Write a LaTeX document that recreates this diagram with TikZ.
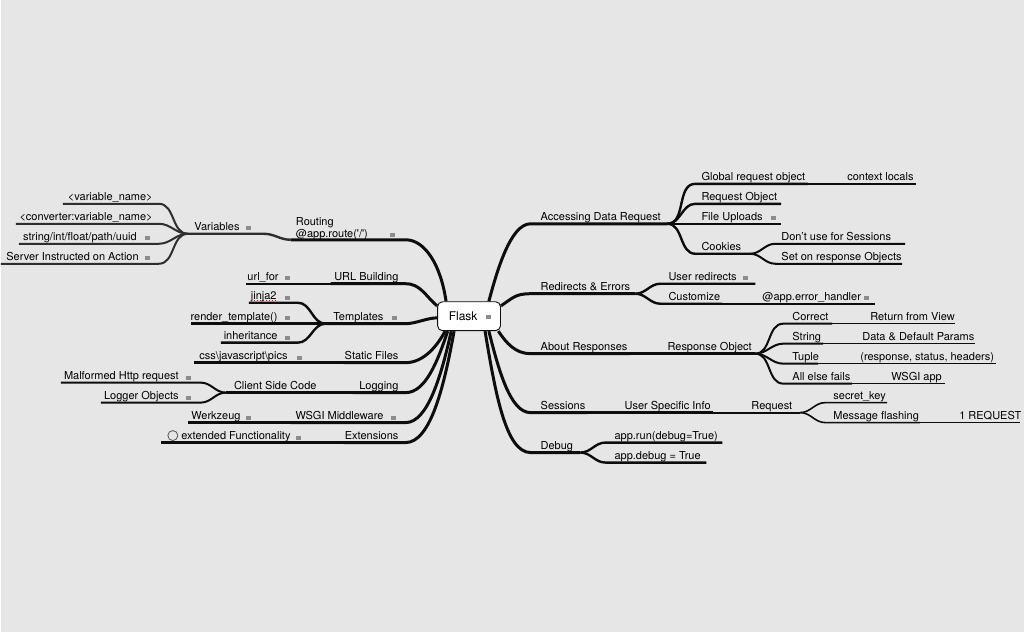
\documentclass[tikz,border=0pt]{standalone}
\usepackage{fontspec}
\setmainfont{TeX Gyre Heros}
\usetikzlibrary{calc,positioning}
\definecolor{mapbg}{HTML}{E6E6E6}
\definecolor{mapink}{HTML}{0D0D0D}
\definecolor{mapgray}{HTML}{2E2E2E}
\definecolor{notegray}{HTML}{8C8C8C}
\newcommand\mapfont{\fontsize{11}{13}\selectfont}
\tikzset{
  lvA/.style={draw=mapink, line width=3pt},
  lvB/.style={draw=mapink, line width=2.4pt},
  lvC/.style={draw=mapink, line width=2pt},
  lvD/.style={draw=mapink, line width=1.6pt},
  lvE/.style={draw=mapink, line width=1.3pt},
  lbl/.style={inner sep=0pt, font=\mapfont, text=black},
  lblR/.style={lbl, anchor=base west},
  lblL/.style={lbl, anchor=base east},
  notebox/.style={fill=notegray, minimum width=5pt, minimum height=4pt, inner sep=0pt},
  rootbox/.style={draw=mapink, fill=white, rounded corners=5pt, line width=0.9pt,
    minimum width=63pt, minimum height=29pt}
}

\begin{document}
\begin{tikzpicture}[x=1pt,y=-1pt]
  \fill[mapbg] (0,0) rectangle (1024,633);

  % ends of the line under every topic
  \foreach \n/\xa/\xb/\y in {adr/530/667/224, glob/695/808/184, ctx/808/916/184,
      rqo/695/781/204, fup/695/781/224, cok/695/750/254, dus/775/905/244,
      sor/775/902/264, red/530/635/294, usr/660/755/284, cus/660/722/304,
      ehd/722/875/304, abr/530/630/354, rso/630/755/354, cor/783/832/324,
      rfv/832/955/324, str/783/823/344, ddp/823/975/344, tup/783/818/364,
      rsh/818/996/364, aef/783/852/384, wsa/852/945/384, ses/530/587/413,
      usi/587/713/413, req/713/800/413, sck/825/887/403, msf/825/920/423,
      one/920/1020/423, dbg/530/580/453, arn/605/722/443, adb/605/706/463,
      rout/290/405/240, vars/187/263/234, vnm/62/158/204, cvn/15/158/224,
      sif/18/158/244, sia/0/158/264, url/330/405/284, ufr/245/330/284,
      tpl/325/405/324, jin/248/297/303, rtp/190/325/324, inh/220/297/343,
      stf/343/405/363, cjp/193/343/363, lgg/352/405/393, csc/225/352/393,
      mhr/60/200/383, lgo/100/200/403, wsg/290/405/423, wkz/187/290/423,
      ext/343/405/443, efn/160/343/443}{
    \coordinate (\n-a) at (\xa,\y);
    \coordinate (\n-b) at (\xb,\y);
  }

  \node[rootbox] (flask) at (468.5,316.5) {};
  \node[lbl, anchor=base west, font=\fontsize{12}{14}\selectfont] (flaskt) at (448,321) {Flask};
  \node[notebox] (flaskn) at (488,317) {};

  % right side
  \draw[lvA] (flask.37) .. controls +(8,-30) and +(-20,0) .. (adr-a) -- (adr-b);
  \draw[lvB] (adr-b) to[out=0,in=180] (glob-a) -- (glob-b);
  \draw[lvD] (glob-b) -- (ctx-a) -- (ctx-b);
  \draw[lvB] (adr-b) to[out=0,in=180] (rqo-a) -- (rqo-b);
  \draw[lvB] (adr-b) to[out=0,in=180] (fup-a) -- (fup-b);
  \draw[lvB] (adr-b) to[out=0,in=180] (cok-a) -- (cok-b);
  \draw[lvC] (cok-b) to[out=0,in=180] (dus-a) -- (dus-b);
  \draw[lvC] (cok-b) to[out=0,in=180] (sor-a) -- (sor-b);

  \draw[lvA] (flask.18) .. controls +(12,-8) and +(-15,0) .. (red-a) -- (red-b);
  \draw[lvB] (red-b) to[out=0,in=180] (usr-a) -- (usr-b);
  \draw[lvB] (red-b) to[out=0,in=180] (cus-a) -- (cus-b);
  \draw[lvC] (cus-b) -- (ehd-a) -- (ehd-b);

  \draw[lvA] (flask.-27) .. controls +(8,12) and +(-15,0) .. (abr-a) -- (abr-b);
  \draw[lvB] (abr-b) -- (rso-a) -- (rso-b);
  \draw[lvC] (rso-b) to[out=0,in=180] (cor-a) -- (cor-b);
  \draw[lvD] (cor-b) -- (rfv-a) -- (rfv-b);
  \draw[lvC] (rso-b) to[out=0,in=180] (str-a) -- (str-b);
  \draw[lvD] (str-b) -- (ddp-a) -- (ddp-b);
  \draw[lvC] (rso-b) to[out=0,in=180] (tup-a) -- (tup-b);
  \draw[lvD] (tup-b) -- (rsh-a) -- (rsh-b);
  \draw[lvC] (rso-b) to[out=0,in=180] (aef-a) -- (aef-b);
  \draw[lvD] (aef-b) -- (wsa-a) -- (wsa-b);

  \draw[lvA] (flask.-37) .. controls +(10,40) and +(-20,0) .. (ses-a) -- (ses-b);
  \draw[lvB] (ses-b) -- (usi-a) -- (usi-b);
  \draw[lvC] (usi-b) -- (req-a) -- (req-b);
  \draw[lvD] (req-b) to[out=0,in=180] (sck-a) -- (sck-b);
  \draw[lvD] (req-b) to[out=0,in=180] (msf-a) -- (msf-b);
  \draw[lvE] (msf-b) -- (one-a) -- (one-b);

  \draw[lvA] (flask.-43) .. controls +(10,60) and +(-25,0) .. (dbg-a) -- (dbg-b);
  \draw[lvB] (dbg-b) to[out=0,in=180] (arn-a) -- (arn-b);
  \draw[lvB] (dbg-b) to[out=0,in=180] (adb-a) -- (adb-b);

  % left side
  \draw[lvA] (flask.147) .. controls +(-5,-35) and +(20,0) .. (rout-b) -- (rout-a);
  \draw[lvB, draw=mapgray] (rout-a) to[out=180,in=0] (vars-b) -- (vars-a);
  \foreach \n in {vnm,cvn,sif,sia}
    \draw[lvC, draw=mapgray] (vars-a) to[out=180,in=0] (\n-b) -- (\n-a);

  \draw[lvA] (flask.162) .. controls +(-12,-10) and +(15,0) .. (url-b) -- (url-a);
  \draw[lvB] (url-a) -- (ufr-b) -- (ufr-a);

  \draw[lvA] (flask.183) .. controls +(-10,0) and +(10,0) .. (tpl-b) -- (tpl-a);
  \draw[lvB] (tpl-a) to[out=180,in=0] (jin-b) -- (jin-a);
  \draw[lvB] (tpl-a) -- (rtp-b) -- (rtp-a);
  \draw[lvB] (tpl-a) to[out=180,in=0] (inh-b) -- (inh-a);

  \draw[lvA] (flask.212) .. controls +(-8,15) and +(18,0) .. (stf-b) -- (stf-a);
  \draw[lvB] (stf-a) -- (cjp-b) -- (cjp-a);

  \draw[lvA] (flask.215) .. controls +(-10,30) and +(20,0) .. (lgg-b) -- (lgg-a);
  \draw[lvB] (lgg-a) -- (csc-b) -- (csc-a);
  \draw[lvC] (csc-a) to[out=180,in=0] (mhr-b) -- (mhr-a);
  \draw[lvC] (csc-a) to[out=180,in=0] (lgo-b) -- (lgo-a);

  \draw[lvA] (flask.220) .. controls +(-10,45) and +(22,0) .. (wsg-b) -- (wsg-a);
  \draw[lvB] (wsg-a) -- (wkz-b) -- (wkz-a);

  \draw[lvA] (flask.225) .. controls +(-10,55) and +(25,0) .. (ext-b) -- (ext-a);
  \draw[lvB] (ext-a) -- (efn-b) -- (efn-a);

  % texts, right side
  \node[lblR] (adr) at (540,220.5) {Accessing Data Request};
  \node[lblR] (glob) at (701,180.5) {Global request object};
  \node[lblR] (ctx) at (847,180.5) {context locals};
  \node[lblR] (rqo) at (701,200.5) {Request Object};
  \node[lblR] (fup) at (701,220.5) {File Uploads};
  \node[lblR] (cok) at (701,250.5) {Cookies};
  \node[lblR] (dus) at (781,240.5) {Don't use for Sessions};
  \node[lblR] (sor) at (781,260.5) {Set on response Objects};
  \node[lblR] (red) at (540,290.5) {Redirects \& Errors};
  \node[lblR] (usr) at (668,280.5) {User redirects};
  \node[lblR] (cus) at (668,300.5) {Customize};
  \node[lblR] (ehd) at (762,300.5) {@app.error\_handler};
  \node[lblR] (abr) at (540,350.5) {About Responses};
  \node[lblR] (rso) at (667,350.5) {Response Object};
  \node[lblR] (cor) at (792,320.5) {Correct};
  \node[lblR] (rfv) at (870,320.5) {Return from View};
  \node[lblR] (str) at (792,340.5) {String};
  \node[lblR] (ddp) at (862,340.5) {Data \& Default Params};
  \node[lblR] (tup) at (792,360.5) {Tuple};
  \node[lblR] (rsh) at (860,360.5) {(response, status, headers)};
  \node[lblR] (aef) at (792,380.5) {All else fails};
  \node[lblR] (wsa) at (891,380.5) {WSGI app};
  \node[lblR] (ses) at (540,409.5) {Sessions};
  \node[lblR] (usi) at (624,409.5) {User Specific Info};
  \node[lblR] (req) at (751,409.5) {Request};
  \node[lblR] (sck) at (833,399.5) {secret\_key};
  \node[lblR] (msf) at (833,419.5) {Message flashing};
  \node[lblR] (one) at (959,419.5) {1 REQUEST};
  \node[lblR] (dbg) at (540,449.5) {Debug};
  \node[lblR] (arn) at (614,439.5) {app.run(debug=True)};
  \node[lblR] (adb) at (614,459.5) {app.debug = True};

  % texts, left side
  \node[lbl, anchor=north west, align=left] (rout) at (295,217)
    {Routing\\@app.route(\textquotesingle/\textquotesingle)};
  \node[lblL] (vars) at (239,230.5) {Variables};
  \node[lblL] (vnm) at (152,200.5) {<variable\_name>};
  \node[lblL] (cvn) at (152,220.5) {<converter:variable\_name>};
  \node[lblL] (sif) at (136,240.5) {string/int/float/path/uuid};
  \node[lblL] (sia) at (138,260.5) {Server Instructed on Action};
  \node[lblL] (url) at (398,280.5) {URL Building};
  \node[lblL] (ufr) at (278,280.5) {url\_for};
  \node[lblL] (tpl) at (383,320.5) {Templates};
  \node[lblL] (jin) at (276,299.5) {jinja2};
  \node[lblL] (rtp) at (277,320.5) {render\_template()};
  \node[lblL] (inh) at (277,339.5) {inheritance};
  \node[lblL] (stf) at (398,359.5) {Static Files};
  \node[lblL] (cjp) at (287,359.5) {css\textbackslash javascript\textbackslash pics};
  \node[lblL] (lgg) at (398,389.5) {Logging};
  \node[lblL] (csc) at (316,389.5) {Client Side Code};
  \node[lblL] (mhr) at (178,379.5) {Malformed Http request};
  \node[lblL] (lgo) at (178,399.5) {Logger Objects};
  \node[lblL] (wsg) at (383,419.5) {WSGI Middleware};
  \node[lblL] (wkz) at (240,419.5) {Werkzeug};
  \node[lblL] (ext) at (398,439.5) {Extensions};
  \node[lblL] (efn) at (290,439.5) {extended Functionality};
  \draw[red!80!black, dotted, line width=1pt]
    ([yshift=-1.5pt]jin.base west) -- ([yshift=-1.5pt]jin.base east);
  \node[circle, draw=notegray!60!black, line width=0.8pt, minimum size=10pt,
    inner sep=0pt] (efnc) at (172,436) {};

  % note marks
  \node[notebox] (fupn) at (773,218) {};
  \node[notebox] (usrn) at (745,278) {};
  \node[notebox] (ehdn) at (866,298) {};
  \node[notebox] (routn) at (392,235) {};
  \node[notebox] (varsn) at (248,228) {};
  \node[notebox] (sifn) at (147,238) {};
  \node[notebox] (sian) at (147,258) {};
  \node[notebox] (ufrn) at (287,278) {};
  \node[notebox] (jinn) at (287,298) {};
  \node[notebox] (rtpn) at (287,318) {};
  \node[notebox] (tpln) at (394,318) {};
  \node[notebox] (inhn) at (287,338) {};
  \node[notebox] (cjpn) at (299,358) {};
  \node[notebox] (mhrn) at (188,378) {};
  \node[notebox] (lgon) at (188,398) {};
  \node[notebox] (wkzn) at (248,418) {};
  \node[notebox] (wsgn) at (393,418) {};
  \node[notebox] (efnn) at (298,438) {};
\end{tikzpicture}
\end{document}
